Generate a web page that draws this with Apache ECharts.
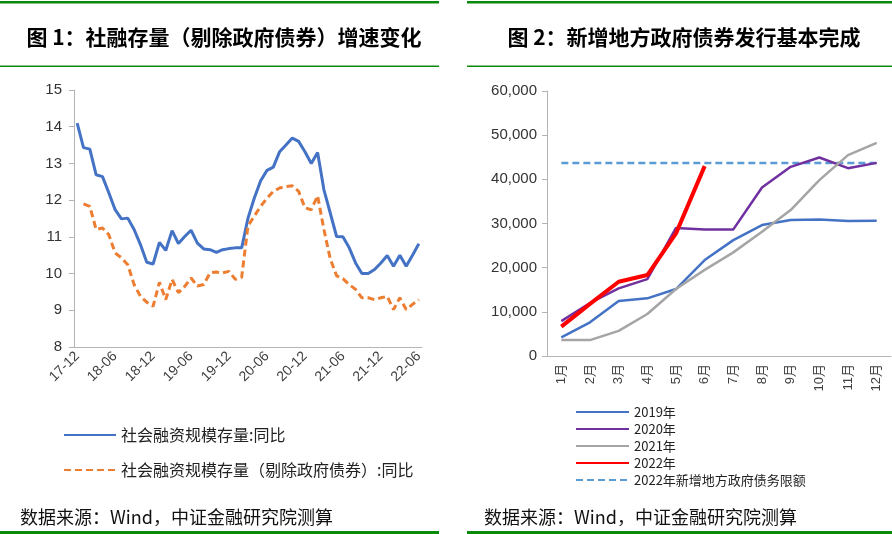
<!DOCTYPE html>
<html>
<head>
<meta charset="utf-8">
<script src="https://cdn.jsdelivr.net/npm/echarts@6/dist/echarts.min.js"></script>
<style>
  html, body { margin: 0; padding: 0; background: #fff; }
  #main { width: 892px; height: 534px; }
</style>
</head>
<body>
<div id="main"></div>
<script>
// 图1：社融存量增速（月度，17-12 ~ 22-06）
const months = [
  '17-12', '18-01', '18-02', '18-03', '18-04', '18-05', '18-06', '18-07', '18-08', '18-09', '18-10', '18-11',
  '18-12', '19-01', '19-02', '19-03', '19-04', '19-05', '19-06', '19-07', '19-08', '19-09', '19-10', '19-11',
  '19-12', '20-01', '20-02', '20-03', '20-04', '20-05', '20-06', '20-07', '20-08', '20-09', '20-10', '20-11',
  '20-12', '21-01', '21-02', '21-03', '21-04', '21-05', '21-06', '21-07', '21-08', '21-09', '21-10', '21-11',
  '21-12', '22-01', '22-02', '22-03', '22-04', '22-05', '22-06'
]
const tsfGrowth = [
  14.1, 13.43, 13.39, 12.69, 12.64, 12.2, 11.74, 11.49, 11.51, 11.2, 10.79, 10.31,
  10.26, 10.85, 10.63, 11.17, 10.82, 11.01, 11.18, 10.83, 10.67, 10.65, 10.58, 10.65,
  10.68, 10.7, 10.7, 11.51, 12.06, 12.53, 12.81, 12.9, 13.32, 13.5, 13.69, 13.6,
  13.32, 13.0, 13.3, 12.28, 11.65, 11.01, 11.0, 10.7, 10.29, 10.0, 10.0, 10.11,
  10.29, 10.49, 10.2, 10.5, 10.2, 10.5, 10.81
]
const tsfExGovGrowth = [
  null, 11.9, 11.83, 11.2, 11.24, 11.06, 10.56, 10.43, 10.24, 9.7, 9.38, 9.22,
  9.11, 9.76, 9.29, 9.84, 9.48, 9.65, 9.88, 9.66, 9.7, 10.02, 10.04, 10.02,
  10.06, 9.84, 9.9, 11.3, 11.57, 11.83, 12.05, 12.24, 12.33, 12.37, 12.39, 12.24,
  11.79, 11.74, 12.12, 11.2, 10.4, 9.94, 9.86, 9.7, 9.57, 9.34, 9.34, 9.29,
  9.34, 9.38, 9.02, 9.34, 9.02, 9.16, 9.29
]

// 图2：新增地方政府债券累计发行（亿元）
const monthNames = ['1月', '2月', '3月', '4月', '5月', '6月', '7月', '8月', '9月', '10月', '11月', '12月']
const issue2019 = [4230, 7620, 12440, 13050, 15160, 21720, 26240, 29640, 30770, 30920, 30540, 30620]
const issue2020 = [7900, 12000, 15300, 17400, 29000, 28660, 28660, 38160, 42830, 44950, 42530, 43730]
const issue2021 = [3600, 3600, 5700, 9500, 15160, 19500, 23460, 28130, 33030, 39820, 45480, 48260]
const issue2022 = [6640, 11800, 16820, 18330, 27760, 42990]
const quota2022 = [43700, 43700, 43700, 43700, 43700, 43700, 43700, 43700, 43700, 43700, 43700, 43700]

const latin = "'Liberation Sans', 'Noto Sans CJK SC', sans-serif"
const cjk = "'Noto Sans CJK SC', 'Liberation Sans', sans-serif"
const green = '#0a8a0a'
const axisGray = '#b4b4b4'

const chart = echarts.init(document.getElementById('main'))

const option = {
  backgroundColor: '#fff',
  animation: false,
  textStyle: { fontFamily: latin },
  grid: [
    { left: 74, top: 90, width: 348, height: 257 },
    { left: 547, top: 91, width: 344, height: 265 }
  ],
  xAxis: [
    {
      type: 'category',
      gridIndex: 0,
      data: months,
      boundaryGap: true,
      axisLine: { lineStyle: { color: axisGray, width: 1 } },
      axisTick: { interval: 5, length: 5, lineStyle: { color: axisGray } },
      axisLabel: { interval: 5, rotate: 45, fontSize: 14, color: '#404040', margin: 7, fontFamily: latin }
    },
    {
      type: 'category',
      gridIndex: 1,
      data: monthNames,
      boundaryGap: true,
      axisLine: { lineStyle: { color: axisGray, width: 1 } },
      axisTick: { length: 5, lineStyle: { color: axisGray } },
      axisLabel: { interval: 0, rotate: 90, fontSize: 13, color: '#404040', margin: 8, fontFamily: latin }
    }
  ],
  yAxis: [
    {
      type: 'value',
      gridIndex: 0,
      min: 8,
      max: 15,
      interval: 1,
      splitLine: { show: false },
      axisLine: { show: true, lineStyle: { color: axisGray } },
      axisTick: { show: true, length: 5, lineStyle: { color: axisGray } },
      axisLabel: { fontSize: 15, color: '#333', margin: 12, fontFamily: latin }
    },
    {
      type: 'value',
      gridIndex: 1,
      min: 0,
      max: 60000,
      interval: 10000,
      splitLine: { show: false },
      axisLine: { show: true, lineStyle: { color: axisGray } },
      axisTick: { show: true, length: 5, lineStyle: { color: axisGray } },
      axisLabel: {
        fontSize: 15,
        color: '#333',
        margin: 10,
        fontFamily: latin,
        formatter: (v) => v.toLocaleString('en-US')
      }
    }
  ],
  legend: [
    {
      orient: 'vertical',
      left: 58,
      top: 422,
      itemWidth: 52,
      itemHeight: 16,
      itemGap: 19,
      itemStyle: { opacity: 0 },
      textStyle: { fontSize: 16, color: '#222', fontFamily: cjk, lineHeight: 16 },
      data: ['社会融资规模存量:同比', '社会融资规模存量（剔除政府债券）:同比']
    },
    {
      orient: 'vertical',
      left: 570,
      top: 400,
      itemWidth: 53,
      itemHeight: 14,
      itemGap: 3,
      itemStyle: { opacity: 0 },
      textStyle: { fontSize: 13, color: '#222', fontFamily: cjk, lineHeight: 14 },
      data: ['2019年', '2020年', '2021年', '2022年', '2022年新增地方政府债务限额']
    }
  ],
  series: [
    {
      name: '社会融资规模存量:同比',
      type: 'line',
      xAxisIndex: 0,
      yAxisIndex: 0,
      data: tsfGrowth,
      symbol: 'none',
      lineStyle: { color: '#4472C4', width: 3 },
      itemStyle: { color: '#4472C4' }
    },
    {
      name: '社会融资规模存量（剔除政府债券）:同比',
      type: 'line',
      xAxisIndex: 0,
      yAxisIndex: 0,
      data: tsfExGovGrowth,
      symbol: 'none',
      lineStyle: { color: '#ED7D31', width: 3, type: [7, 4] },
      itemStyle: { color: '#ED7D31' }
    },
    {
      name: '2019年',
      type: 'line',
      xAxisIndex: 1,
      yAxisIndex: 1,
      data: issue2019,
      symbol: 'none',
      lineStyle: { color: '#4472C4', width: 2.5 },
      itemStyle: { color: '#4472C4' }
    },
    {
      name: '2020年',
      type: 'line',
      xAxisIndex: 1,
      yAxisIndex: 1,
      data: issue2020,
      symbol: 'none',
      lineStyle: { color: '#7030A0', width: 2.5 },
      itemStyle: { color: '#7030A0' }
    },
    {
      name: '2021年',
      type: 'line',
      xAxisIndex: 1,
      yAxisIndex: 1,
      data: issue2021,
      symbol: 'none',
      lineStyle: { color: '#A5A5A5', width: 2.5 },
      itemStyle: { color: '#A5A5A5' }
    },
    {
      name: '2022年',
      type: 'line',
      xAxisIndex: 1,
      yAxisIndex: 1,
      data: issue2022,
      symbol: 'none',
      z: 5,
      lineStyle: { color: '#FF0000', width: 4 },
      itemStyle: { color: '#FF0000' }
    },
    {
      name: '2022年新增地方政府债务限额',
      type: 'line',
      xAxisIndex: 1,
      yAxisIndex: 1,
      data: quota2022,
      symbol: 'none',
      z: 1,
      lineStyle: { color: '#5B9BD5', width: 2.5, type: [7, 4] },
      itemStyle: { color: '#5B9BD5' }
    }
  ],
  graphic: [
    // 绿色分隔线
    { type: 'rect', shape: { x: 0, y: 1, width: 439, height: 2.5 }, style: { fill: green } },
    { type: 'rect', shape: { x: 0, y: 65.5, width: 439, height: 1.5 }, style: { fill: green } },
    { type: 'rect', shape: { x: 0, y: 531, width: 439, height: 3 }, style: { fill: green } },
    { type: 'rect', shape: { x: 467, y: 1, width: 425, height: 2.5 }, style: { fill: green } },
    { type: 'rect', shape: { x: 467, y: 65.5, width: 425, height: 1.5 }, style: { fill: green } },
    { type: 'rect', shape: { x: 467, y: 531, width: 425, height: 3 }, style: { fill: green } },
    // 标题
    {
      type: 'text',
      style: {
        x: 224, y: 37, text: '图 1：社融存量（剔除政府债券）增速变化',
        textAlign: 'center', textVerticalAlign: 'middle',
        font: "bold 21px 'Noto Sans CJK SC', sans-serif", fill: '#000'
      }
    },
    {
      type: 'text',
      style: {
        x: 684, y: 37, text: '图 2：新增地方政府债券发行基本完成',
        textAlign: 'center', textVerticalAlign: 'middle',
        font: "bold 21px 'Noto Sans CJK SC', sans-serif", fill: '#000'
      }
    },
    // 数据来源
    {
      type: 'text',
      style: {
        x: 20, y: 517, text: '数据来源：Wind，中证金融研究院测算',
        textAlign: 'left', textVerticalAlign: 'middle',
        font: "18px 'Noto Sans CJK SC', sans-serif", fill: '#111'
      }
    },
    {
      type: 'text',
      style: {
        x: 484, y: 517, text: '数据来源：Wind，中证金融研究院测算',
        textAlign: 'left', textVerticalAlign: 'middle',
        font: "18px 'Noto Sans CJK SC', sans-serif", fill: '#111'
      }
    }
  ]
}

chart.setOption(option)
</script>
</body>
</html>
